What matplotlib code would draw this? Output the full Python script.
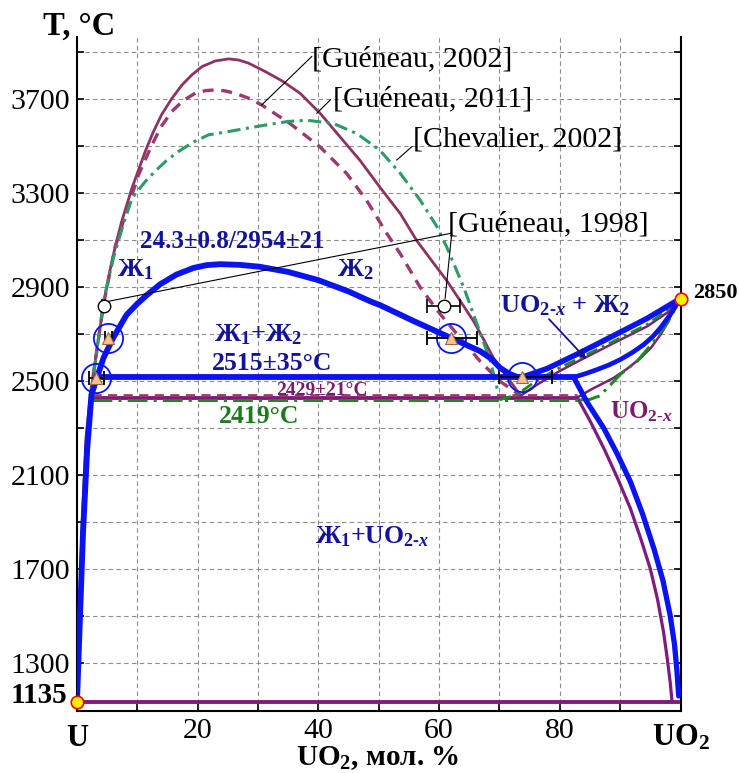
import matplotlib
matplotlib.use('Agg')
import matplotlib.pyplot as plt
import numpy as np

plt.rcParams['font.family'] = ['Liberation Serif', 'DejaVu Serif']
plt.rcParams['mathtext.fontset'] = 'custom'
plt.rcParams['mathtext.rm'] = 'Liberation Serif'
plt.rcParams['mathtext.bf'] = 'Liberation Serif:bold'
plt.rcParams['mathtext.it'] = 'Liberation Serif:italic'
plt.rcParams['mathtext.bfit'] = 'Liberation Serif:bold:italic'

# ---------------- data ----------------
# Guéneau 2002 (solid)
g02_x = [2.2, 3.2, 4.4, 5.3, 6.3, 7.4, 9.1, 11.3, 12.6, 14.0, 15.7, 17.4, 19.0, 20.7, 22.9, 25.1,
         26.8, 28.4, 31.2, 34.0, 37.0, 40.3, 43.6, 46.9, 50.2, 53.6, 56.3, 58.8, 61.3, 63.5,
         65.7, 67.4, 69.0, 71.8, 73.5]
g02_T = [2429, 2620, 2826, 2950, 3067, 3177, 3319, 3475, 3556, 3631, 3700, 3758, 3800, 3836,
         3860, 3869, 3864, 3851, 3815, 3775, 3722, 3637, 3537, 3437, 3323, 3210, 3096, 3010,
         2925, 2840, 2754, 2675, 2597, 2498, 2437]
# Guéneau 2011 (dashed)
g11_x = [2.2, 4.4, 6.3, 8.0, 10.2, 12.4, 14.0, 15.7, 17.6, 19.6, 21.3, 22.9, 24.5, 26.2, 28.4,
         30.6, 35.3, 40.3, 44.7, 48.0, 51.4, 53.6, 56.9, 60.2, 63.5, 66.8, 70.1, 73.5]
g11_T = [2437, 2826, 3067, 3205, 3376, 3503, 3583, 3645, 3692, 3723, 3734, 3737, 3733, 3723,
         3702, 3673, 3594, 3494, 3381, 3267, 3124, 3039, 2896, 2783, 2683, 2583, 2498, 2437]
# Chevalier 2002 (dash-dot)
ch_x = [2.2, 4.4, 6.0, 7.7, 9.1, 11.3, 12.9, 14.8, 16.8, 19.2, 21.8, 25.1, 30.6, 35.0, 38.1,
        42.5, 46.4, 50.2, 53.6, 56.9, 59.7, 61.3, 64.1, 66.3, 68.5, 69.6, 70.0]
ch_T = [2419, 2840, 3020, 3167, 3276, 3347, 3390, 3436, 3475, 3514, 3546, 3560, 3585, 3603,
        3608, 3594, 3551, 3480, 3381, 3267, 3153, 3067, 2896, 2740, 2583, 2469, 2419]

# this work (blue): U-side liquidus + miscibility gap
bl_x = [0, 0.5, 1.0, 1.7, 2.4, 3.3, 4.4, 6.0, 8.2, 10.0, 11.6, 13.8, 16.5, 19.3, 21.5, 23.7,
        27.0, 30.3, 35.0, 40.0, 45.0, 48.6, 50.2, 55.8, 61.3, 66.8, 68.6, 70.1, 71.6, 72.9, 73.7]
bl_T = [1135, 1500, 1857, 2213, 2441, 2513, 2598, 2683, 2780, 2828, 2865, 2911, 2952, 2980,
        2992, 2996, 2993, 2985, 2963, 2928, 2880, 2838, 2822, 2754, 2690, 2626, 2595, 2555,
        2530, 2517, 2515]
bl_mono_x = [3.3, 82.3]
bl_mono_T = [2515, 2515]
bl_up_x = [73.7, 77.9, 83.4, 88.9, 94.5, 100]
bl_up_T = [2515, 2552, 2620, 2692, 2766, 2850]
bl_lo_x = [82.3, 84.2, 86.2, 88.1, 90.0, 92.0, 93.9, 95.4, 96.7, 98.4, 100]
bl_lo_T = [2515, 2530, 2548, 2567, 2590, 2620, 2654, 2688, 2726, 2785, 2850]
bl_sol_x = [82.3, 84.5, 87.3, 89.5, 91.7, 93.7, 95.6, 97.1, 98.3, 99.0, 99.4, 99.7]
bl_sol_T = [2515, 2410, 2298, 2190, 2071, 1935, 1786, 1650, 1501, 1380, 1270, 1160]

# purple (Guéneau) solid phase boundaries
pu_liq_x = [0, 0.4, 0.9, 1.5, 2.2]
pu_liq_T = [1135, 1500, 1900, 2250, 2429]
pu_mono_x = [2.5, 82.9]
pu_mono_T = [2429, 2429]
pu_eut_x = [0, 99.6]
pu_eut_T = [1135, 1135]
pu_up_x = [73.5, 76.0, 80.0, 83.4, 88.9, 94.5, 97.8, 100]
pu_up_T = [2437, 2480, 2542, 2588, 2660, 2732, 2790, 2850]
pu_lo_x = [82.9, 85.1, 88.9, 91.2, 93.4, 95.1, 96.7, 98.0, 98.9, 100]
pu_lo_T = [2429, 2462, 2512, 2552, 2597, 2640, 2697, 2752, 2811, 2850]
pu_sol_x = [82.9, 85.0, 87.3, 89.5, 91.7, 93.4, 95.0, 96.2, 97.2, 97.8, 98.3, 98.6]
pu_sol_T = [2429, 2330, 2213, 2090, 1957, 1830, 1700, 1570, 1430, 1320, 1217, 1135]

# green (Chevalier) phase boundaries
gr_liq_x = [0, 0.45, 0.95, 1.6, 2.2]
gr_liq_T = [1135, 1500, 1880, 2230, 2419]
gr_mono_x = [2.5, 83.4]
gr_mono_T = [2419, 2419]
gr_up_x = [70.0, 72.9, 76.0, 80.0, 83.4, 88.9, 94.5, 97.8, 100]
gr_up_T = [2419, 2441, 2498, 2556, 2598, 2668, 2740, 2800, 2850]
gr_lo_x = [83.4, 85.0, 86.6, 88.3, 90.0, 92.8, 96.1, 98.3, 100]
gr_lo_T = [2419, 2421, 2436, 2480, 2527, 2583, 2683, 2768, 2850]

# experimental points
tri_x = [3.2, 5.2, 61.9, 73.7]
tri_T = [2513, 2683, 2683, 2515]
tri_xerr_lo = [1.2, 0.6, 3.9, 3.7]
tri_xerr_hi = [1.2, 0.6, 4.4, 5.0]
g98_x = [4.4, 60.8]
g98_T = [2818, 2818]
g98_xerr_lo = [0.3, 2.8]
g98_xerr_hi = [0.3, 2.7]
melt_x = [0, 100]
melt_T = [1135, 2850]

y_labels = [1300, 1700, 2100, 2500, 2900, 3300, 3700]
x_labels = [20, 40, 60, 80]

# ---------------- colours ----------------
BLUE = '#0A14F0'
NAVY = '#12129C'
PLUM = '#8E3263'
PLUM2 = '#9A3A6E'
PURP = '#7F1A7F'
TEAL = '#2E9A66'
DKGR = '#1E8A1E'

fig = plt.figure(figsize=(7.39, 7.73), dpi=100)
ax = fig.add_axes([77/739, 1-711/773, (680.5-77)/739, (711-37)/773])
ax.set_xlim(0, 100)
ax.set_ylim(1096, 3962)

# grid / ticks
ax.set_xticks(np.arange(10, 100, 10))
ax.set_xticklabels([str(v) if v in x_labels else '' for v in np.arange(10, 100, 10)])
yt = np.arange(1300, 3901, 200)
ax.set_yticks(yt)
ax.set_yticklabels([str(v) if v in y_labels else '' for v in yt])
ax.grid(True, color='#8c8c8c', lw=0.8, ls=(0, (4, 3)))
ax.set_axisbelow(True)
ax.tick_params(direction='in', length=5, width=1.2, labelsize=21.5, pad=5,
               right=True, labelright=False, top=False)
for s in ['left', 'bottom', 'right']:
    ax.spines[s].set_linewidth(1.5)
ax.spines['top'].set_visible(False)

jr = dict(solid_joinstyle='round', solid_capstyle='round')
# literature curves
ax.plot(g02_x, g02_T, color=PLUM, lw=2.0, zorder=3, **jr)
ax.plot(g11_x, g11_T, color=PLUM2, lw=2.4, ls=(0, (3.3, 2.3)), zorder=3)
ax.plot(ch_x, ch_T, color=TEAL, lw=2.2, ls=(0, (4.3, 1.8, 1, 1.8)), zorder=3)

# purple boundaries
ax.plot(pu_liq_x, pu_liq_T, color=PURP, lw=2.3, zorder=3, **jr)
ax.plot(pu_eut_x, pu_eut_T, color=PURP, lw=2.8, zorder=3)
ax.plot(pu_mono_x, pu_mono_T, color=PURP, lw=2.8, zorder=3)
ax.plot(pu_mono_x, [t + 9 for t in pu_mono_T], color=PLUM2, lw=2.0, ls=(0, (3.3, 2.3)), zorder=3)
ax.plot(pu_up_x, pu_up_T, color=PURP, lw=1.8, zorder=3, **jr)
ax.plot(pu_lo_x, pu_lo_T, color=PURP, lw=1.8, zorder=3, **jr)
ax.plot(pu_sol_x, pu_sol_T, color=PURP, lw=2.3, zorder=3, **jr)

# green boundaries
ax.plot(gr_liq_x, gr_liq_T, color=DKGR, lw=1.6, zorder=3)
ax.plot(gr_mono_x, gr_mono_T, color=DKGR, lw=2.2, ls=(0, (6.5, 2, 1, 2)), zorder=3)
ax.plot(gr_up_x, gr_up_T, color=DKGR, lw=2.0, ls=(0, (4.3, 1.8, 1, 1.8)), zorder=3)
ax.plot(gr_lo_x, gr_lo_T, color=DKGR, lw=2.2, ls=(0, (6.5, 2, 1, 2)), zorder=3)

# blue (this work)
ax.plot(bl_x, bl_T, color=BLUE, lw=4.2, zorder=4, **jr)
ax.plot(bl_mono_x, bl_mono_T, color=BLUE, lw=4.2, zorder=4)
ax.plot(bl_up_x, bl_up_T, color=BLUE, lw=4.0, zorder=4, **jr)
ax.plot(bl_lo_x, bl_lo_T, color=BLUE, lw=3.4, zorder=4, **jr)
ax.plot(bl_sol_x, bl_sol_T, color=BLUE, lw=3.8, zorder=4, **jr)

# experimental points
ax.plot(tri_x, tri_T, 'o', ms=21, mfc='none', mec=BLUE, mew=1.3, zorder=5)
ax.errorbar(tri_x, tri_T, xerr=[tri_xerr_lo, tri_xerr_hi], fmt='none', ecolor='black',
            elinewidth=1.3, capsize=5, capthick=1.3, zorder=6)
ax.plot(tri_x, tri_T, '^', ms=9, mfc='#F6C28E', mec='#A0683A', mew=0.8, zorder=7)
ax.errorbar(g98_x, g98_T, xerr=[g98_xerr_lo, g98_xerr_hi], fmt='none', ecolor='black',
            elinewidth=1.2, capsize=5, capthick=1.2, zorder=6)
ax.plot(g98_x, g98_T, 'o', ms=9, mfc='white', mec='black', mew=1.0, zorder=7)
ax.plot(melt_x, melt_T, 'o', ms=9, mfc='#FFF000', mec='red', mew=1.2, zorder=8, clip_on=False)

# leader lines
lk = dict(color='black', lw=0.8, zorder=6)
ax.plot([38.9, 30.6], [3879, 3673], **lk)
ax.plot([42.0, 39.75], [3695, 3638], **lk)
ax.plot([55.5, 53.0], [3496, 3439], **lk)
ax.plot([4.8, 62.1, 61.0], [2836, 3128, 2851], **lk)

# reference labels
rk = dict(fontsize=21.5, color='black', ha='left', va='baseline', zorder=9)
ax.text(38.95, 3836, '[Guéneau, 2002]', **rk)
ax.text(42.5, 3666, '[Guéneau, 2011]', **rk)
ax.text(55.6, 3496, '[Chevalier, 2002]', **rk)
ax.text(61.5, 3134, '[Guéneau, 1998]', **rk)

# phase-field labels
UOX = r'UO$_{\mathbf{2}{\mathbf{‐}}\mathbfit{x}}$'
bk = dict(color=NAVY, fontweight='bold', zorder=9)
ax.text(10.4, 3093, '24.3±0.8/2954±21', fontsize=18, ha='left', va='center', **bk)
ax.text(6.7, 2945, r'Ж$_\mathbf{1}$', fontsize=19, ha='left', va='baseline', **bk)
ax.text(43.0, 2945, r'Ж$_\mathbf{2}$', fontsize=19, ha='left', va='baseline', **bk)
ax.text(30.0, 2667, r'Ж$_\mathbf{1}$+Ж$_\mathbf{2}$', fontsize=19, ha='center', va='baseline', **bk)
ax.text(32.4, 2546, '2515±35°C', fontsize=18.5, ha='center', va='baseline', **bk)
ax.text(40.6, 2440, '2429±21°C', fontsize=14, color='#7A1C6C', fontweight='bold',
        ha='center', va='baseline', zorder=9)
ax.text(30.2, 2322, '2419°C', fontsize=18.5, color='#1C7A1C', fontweight='bold',
        ha='center', va='baseline', zorder=9)
ax.text(39.5, 1810, r'Ж$_\mathbf{1}$+' + UOX, fontsize=18.5, ha='left', va='baseline', **bk)
ax.text(70.1, 2793, UOX + r' + Ж$_\mathbf{2}$', fontsize=19, ha='left', va='baseline', **bk)
ax.text(88.4, 2342, UOX, fontsize=18, color='#7A1C6C', fontweight='bold',
        ha='left', va='baseline', zorder=9)
ax.annotate('', xy=(84.7, 2584), xytext=(77.9, 2771),
            arrowprops=dict(arrowstyle='-|>', color=NAVY, lw=1.3, mutation_scale=14), zorder=9)

# axis-end labels
xt = ax.get_xaxis_transform()
ax.text(0, -0.0512, 'U', transform=xt, fontsize=22, fontweight='bold', ha='center', va='baseline')
ax.text(100, -0.0512, r'UO$_\mathbf{2}$', transform=xt, fontsize=22, fontweight='bold',
        ha='center', va='baseline', clip_on=False)
ax.text(49.8, -0.0805, r'UO$_\mathbf{2}$, мол. %', transform=xt, fontsize=21, fontweight='bold',
        ha='center', va='baseline')
ax.text(-5.6, 1.003, 'T, °C', transform=xt, fontsize=23.5, fontweight='bold', ha='left', va='baseline')
ax.text(-1.6, 1130, '1135', fontsize=21, fontweight='bold', ha='right', va='baseline', clip_on=False)
ax.text(102.1, 2872, '2850', fontsize=16, fontweight='bold', ha='left', va='center', clip_on=False)

fig.savefig('out.png', dpi=100)
